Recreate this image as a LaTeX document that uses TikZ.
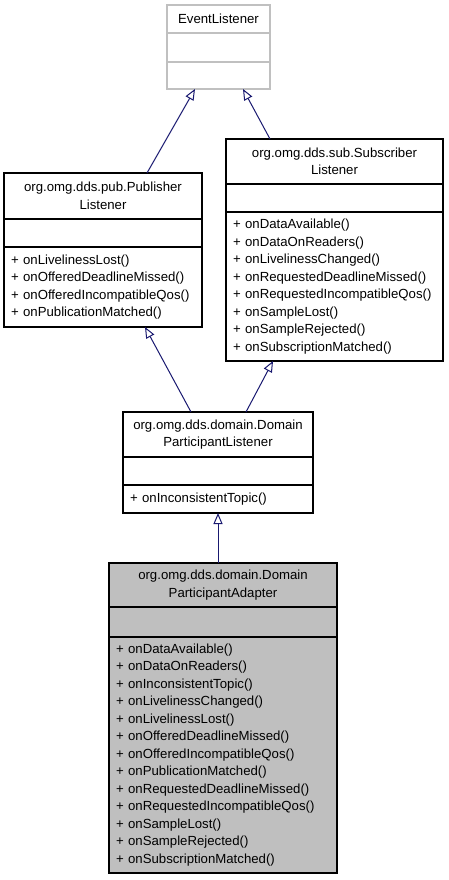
\documentclass[tikz,border=0pt]{standalone}
\usepackage{fontspec}
\setmainfont{Liberation Sans}
\usepackage{xcolor}
\usetikzlibrary{arrows.meta,positioning}
\definecolor{umlnavy}{HTML}{191970}
\definecolor{umlgray}{HTML}{BFBFBF}
\definecolor{umlpale}{HTML}{C0C0C0}

\begin{document}
\begin{tikzpicture}[
    x=1pt, y=-1pt,
    part/.style={rectangle, draw=black, line width=1.2pt, fill=white, inner xsep=7pt, inner ysep=0pt, outer sep=0pt, font=\fontsize{13.2}{17.5}\selectfont},
    title/.style={part, align=center},
    members/.style={part, align=left},
    paleline/.style={draw=umlpale},
    current/.style={fill=umlgray},
    inherit/.style={-{Triangle[open, length=11pt, width=9pt, fill=white]}, line width=1pt, draw=umlnavy}
]
    \useasboundingbox (0,0) rectangle (448,880);

    % EventListener
    \node (evt) [title, paleline, text width=89pt, minimum height=28pt, anchor=north west] at (167,5) {EventListener};
    \node (evtA) [members, paleline, text width=89pt, minimum height=29pt, below=0pt of evt] {};
    \node (evtM) [members, paleline, text width=89pt, minimum height=27pt, below=0pt of evtA] {};

    % PublisherListener
    \node (pub) [title, text width=184pt, minimum height=46pt, anchor=north west] at (4,173) {org.omg.dds.pub.Publisher\\Listener};
    \node (pubA) [members, text width=184pt, minimum height=28pt, below=0pt of pub] {};
    \node (pubM) [members, text width=184pt, minimum height=80pt, below=0pt of pubA] {
        + onLivelinessLost()\\
        + onOfferedDeadlineMissed()\\
        + onOfferedIncompatibleQos()\\
        + onPublicationMatched()
    };

    % SubscriberListener
    \node (sub) [title, text width=203pt, minimum height=45pt, anchor=north west] at (226,139) {org.omg.dds.sub.Subscriber\\Listener};
    \node (subA) [members, text width=203pt, minimum height=28pt, below=0pt of sub] {};
    \node (subM) [members, text width=203pt, minimum height=149pt, below=0pt of subA] {
        + onDataAvailable()\\
        + onDataOnReaders()\\
        + onLivelinessChanged()\\
        + onRequestedDeadlineMissed()\\
        + onRequestedIncompatibleQos()\\
        + onSampleLost()\\
        + onSampleRejected()\\
        + onSubscriptionMatched()
    };

    % DomainParticipantListener
    \node (dpl) [title, text width=176pt, minimum height=45pt, anchor=north west] at (123,412) {org.omg.dds.domain.Domain\\ParticipantListener};
    \node (dplA) [members, text width=176pt, minimum height=28pt, below=0pt of dpl] {};
    \node (dplM) [members, text width=176pt, minimum height=28pt, below=0pt of dplA] {
        + onInconsistentTopic()
    };

    % DomainParticipantAdapter
    \node (adp) [title, current, text width=214pt, minimum height=44pt, anchor=north west] at (109,563) {org.omg.dds.domain.Domain\\ParticipantAdapter};
    \node (adpA) [members, current, text width=214pt, minimum height=30pt, below=0pt of adp] {};
    \node (adpM) [members, current, text width=214pt, minimum height=236pt, below=0pt of adpA] {
        + onDataAvailable()\\
        + onDataOnReaders()\\
        + onInconsistentTopic()\\
        + onLivelinessChanged()\\
        + onLivelinessLost()\\
        + onOfferedDeadlineMissed()\\
        + onOfferedIncompatibleQos()\\
        + onPublicationMatched()\\
        + onRequestedDeadlineMissed()\\
        + onRequestedIncompatibleQos()\\
        + onSampleLost()\\
        + onSampleRejected()\\
        + onSubscriptionMatched()
    };

    \draw [inherit] ([xshift=44pt]pub.north) -- ([xshift=-23.5pt]evtM.south);
    \draw [inherit] ([xshift=-64.5pt]sub.north) -- ([xshift=24.5pt]evtM.south);
    \draw [inherit] ([xshift=-27pt]dpl.north) -- ([xshift=42pt]pubM.south);
    \draw [inherit] ([xshift=28pt]dpl.north) -- ([xshift=-61.5pt]subM.south);
    \draw [inherit] ([xshift=-5pt]adp.north) -- (dplM.south);
\end{tikzpicture}
\end{document}
